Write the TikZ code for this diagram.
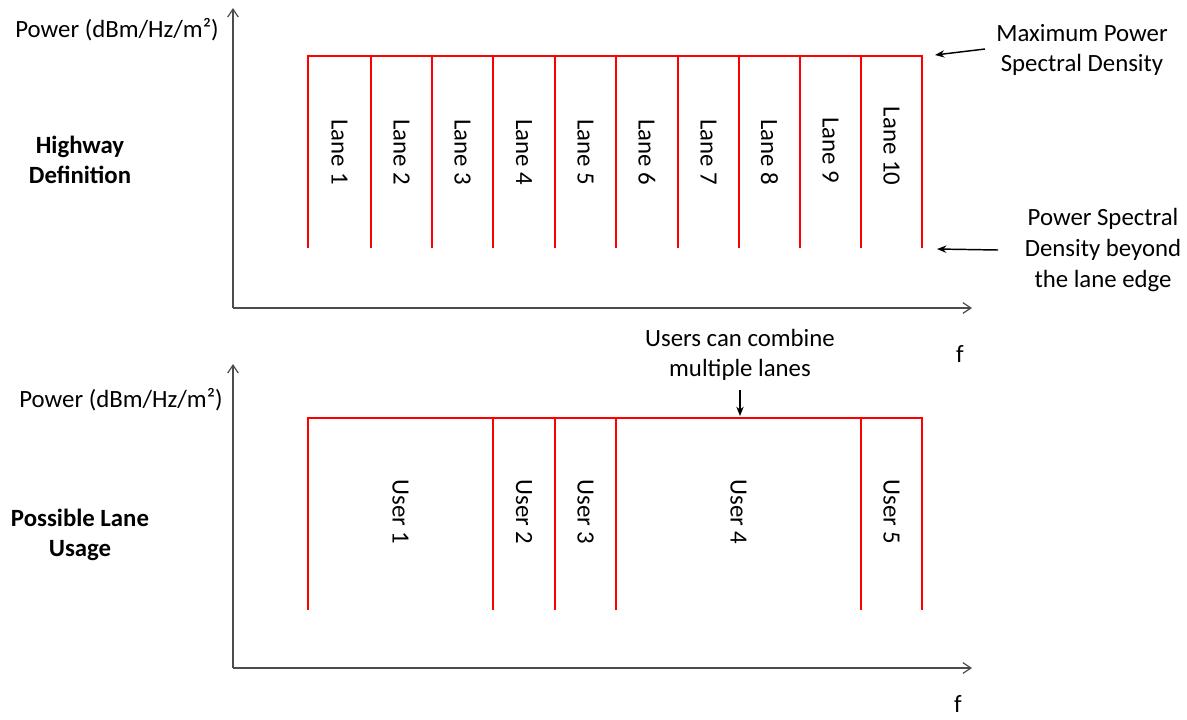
\documentclass[tikz,border=0pt]{standalone}
\usepackage{fontspec}
\setmainfont{Carlito}
\usetikzlibrary{arrows.meta}
\tikzset{
  txt/.style={inner sep=0pt, font=\fontsize{18.6}{23}\selectfont, align=center},
  bold/.style={txt, font=\fontsize{18.6}{23}\selectfont\bfseries},
  axis/.style={draw=black!70, line width=1.1pt, -{Straight Barb[length=6pt,width=8pt,line width=0.9pt]}},
  redline/.style={draw=red, line width=1.8pt},
  ann/.style={draw=black, line width=1.1pt, -{Stealth[length=7pt,width=5.5pt]}},
  lanelbl/.style={txt, rotate=-90}
}
\begin{document}
\begin{tikzpicture}[x=0.75pt, y=-0.75pt]
\useasboundingbox (0,0) rectangle (1187,719);

% ---------- Top panel ----------
\coordinate (o1) at (233,308);
\coordinate (y1) at (233,8);
\coordinate (x1) at (972,308);
\draw[axis] (o1) -- (y1);
\draw[axis] (o1) -- (x1);
\node[txt] (pw1) at (117,30) {Power (dBm/Hz/m²)};
\node[txt] (f1) at (960,354) {f};
\node[bold] (hd) at (80,160) {Highway\\Definition};

\coordinate (tl1) at (308,56);
\coordinate (tr1) at (922,56);
\draw[redline, line cap=rect] (tl1) -- (tr1);
\foreach \xx in {308,371,432,493,555,616,678,739,800,861,922}{
  \draw[redline] (\xx,56) -- (\xx,248);
}
\node[lanelbl] (l1) at (339.5,152) {Lane 1};
\node[lanelbl] (l2) at (401.5,152) {Lane 2};
\node[lanelbl] (l3) at (462.5,152) {Lane 3};
\node[lanelbl] (l4) at (524,152) {Lane 4};
\node[lanelbl] (l5) at (585.5,152) {Lane 5};
\node[lanelbl] (l6) at (647,152) {Lane 6};
\node[lanelbl] (l7) at (708.5,152) {Lane 7};
\node[lanelbl] (l8) at (769.5,152) {Lane 8};
\node[lanelbl] (l9) at (830.5,150) {Lane 9};
\node[lanelbl] (l10) at (891.5,146) {Lane 10};

\node[txt] (mpsd) at (1082,50) {Maximum Power\\Spectral Density};
\coordinate (a1s) at (985,49);
\coordinate (a1e) at (935,55);
\draw[ann] (a1s) -- (a1e);

\node[txt] (psdb) at (1103,250) {Power Spectral\\Density beyond\\the lane edge};
\coordinate (a2s) at (998,250);
\coordinate (a2e) at (937,249);
\draw[ann] (a2s) -- (a2e);

% ---------- Bottom panel ----------
\coordinate (o2) at (233,668);
\coordinate (y2) at (233,364);
\coordinate (x2) at (972,668);
\draw[axis] (o2) -- (y2);
\draw[axis] (o2) -- (x2);
\node[txt] (pw2) at (121,400) {Power (dBm/Hz/m²)};
\node[txt] (f2) at (958,704) {f};
\node[bold] (plu) at (80,535) {Possible Lane\\Usage};

\coordinate (tl2) at (308,418);
\coordinate (tr2) at (922,418);
\draw[redline, line cap=rect] (tl2) -- (tr2);
\foreach \xx in {308,493,555,616,861,922}{
  \draw[redline] (\xx,418) -- (\xx,610);
}
\node[lanelbl] (u1) at (400.5,512) {User 1};
\node[lanelbl] (u2) at (524,512) {User 2};
\node[lanelbl] (u3) at (585.5,512) {User 3};
\node[lanelbl] (u4) at (738.5,512) {User 4};
\node[lanelbl] (u5) at (891.5,512) {User 5};

\node[txt] (ucc) at (740,355) {Users can combine\\multiple lanes};
\coordinate (a3s) at (740,390);
\coordinate (a3e) at (740,416);
\draw[ann] (a3s) -- (a3e);
\end{tikzpicture}
\end{document}
